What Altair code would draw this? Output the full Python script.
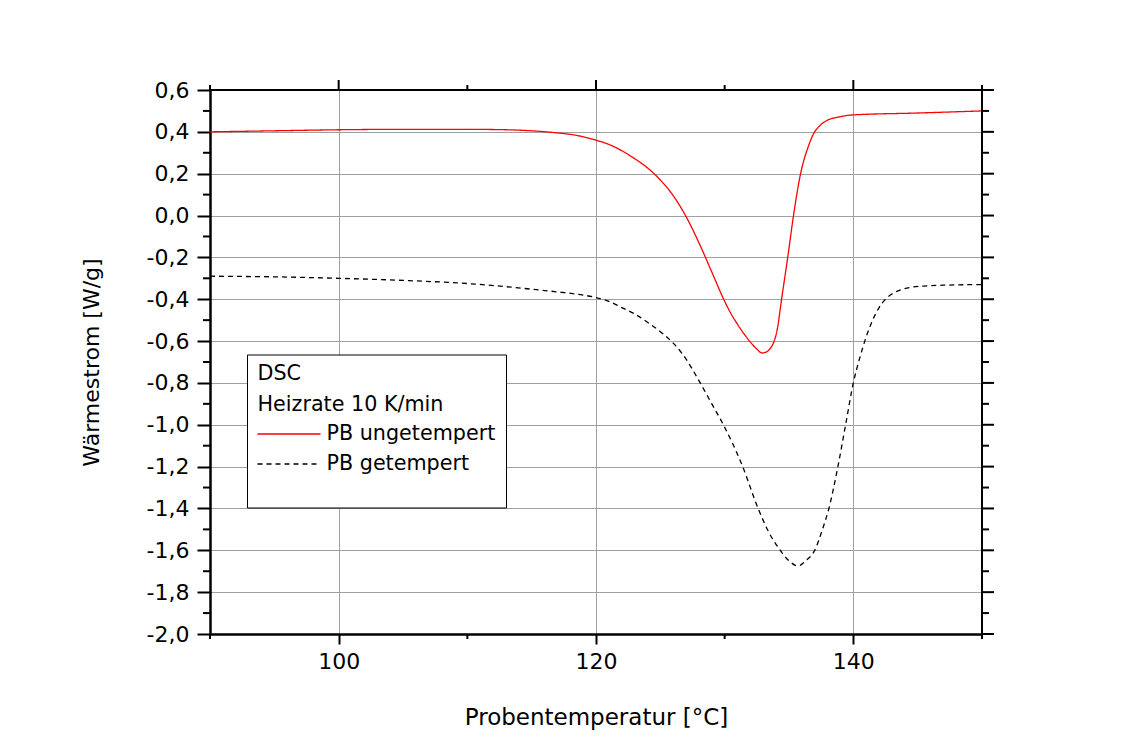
import altair as alt
import pandas as pd

# ---- data ----
red_T = [90, 95, 100, 105, 110, 113, 115, 117, 118.5, 120, 121, 122, 123, 124, 125, 126,
         127, 128, 129, 130, 130.5, 131, 131.5, 132, 132.5, 132.9, 133.3, 133.6, 133.85,
         134.1, 134.4, 134.9, 135.35, 135.9, 136.5, 136.9, 137.4, 138.0, 138.8, 140, 145, 150]
red_W = [0.400, 0.405, 0.410, 0.412, 0.412, 0.410, 0.405, 0.395, 0.383, 0.360, 0.340, 0.310,
         0.272, 0.228, 0.170, 0.095, -0.005, -0.130, -0.270, -0.410, -0.470, -0.520, -0.565,
         -0.605, -0.638, -0.657, -0.650, -0.630, -0.600, -0.540, -0.410, -0.200, 0.000, 0.200,
         0.330, 0.390, 0.430, 0.456, 0.470, 0.481, 0.490, 0.500]

blk_T = [90, 95, 100, 105, 110, 113, 115, 117, 119, 120, 121, 122, 123, 124, 125, 126,
         126.7, 128.1, 129, 129.9, 131.4, 132.6, 133.4, 134.2, 135.0, 135.7, 136.3, 137.0,
         137.6, 138.1, 138.8, 139.4, 140.0, 140.5, 141.0, 141.5, 142.0, 142.5, 143.0, 143.7,
         144.5, 145.5, 147, 150]
blk_W = [-0.290, -0.293, -0.300, -0.310, -0.325, -0.340, -0.352, -0.365, -0.380, -0.392,
         -0.410, -0.440, -0.470, -0.510, -0.555, -0.610, -0.660, -0.800, -0.900, -1.000,
         -1.200, -1.400, -1.510, -1.590, -1.650, -1.675, -1.650, -1.600, -1.500, -1.400,
         -1.200, -1.000, -0.800, -0.680, -0.580, -0.500, -0.440, -0.400, -0.375, -0.355,
         -0.343, -0.337, -0.333, -0.330]

series_names = ["PB ungetempert", "PB getempert"]
legend_header = ["DSC", "Heizrate 10 K/min"]

x_major = [100, 120, 140]
x_minor = [90, 110, 130, 150]
y_major = [-2.0, -1.8, -1.6, -1.4, -1.2, -1.0, -0.8, -0.6, -0.4, -0.2, 0.0, 0.2, 0.4, 0.6]
y_minor = [-1.9, -1.7, -1.5, -1.3, -1.1, -0.9, -0.7, -0.5, -0.3, -0.1, 0.1, 0.3, 0.5]

# ---- layout ----
W, H = 772, 544
FONT = "DejaVu Sans"
xs = alt.Scale(domain=[90, 150], nice=False, zero=False)
ys = alt.Scale(domain=[-2.0, 0.6], nice=False, zero=False)

df = pd.DataFrame({
    "T": red_T + blk_T,
    "W": red_W + blk_W,
    "series": [series_names[0]] * len(red_T) + [series_names[1]] * len(blk_T),
})

color_scale = alt.Scale(domain=series_names, range=["#ff0000", "#000000"])
dash_scale = alt.Scale(domain=series_names, range=[[1, 0], [5, 4]])

lines = alt.Chart(df).mark_line(strokeWidth=1.3, interpolate="monotone", clip=True).encode(
    x=alt.X("T:Q", scale=xs, title="Probentemperatur [°C]",
            axis=alt.Axis(values=x_major, tickSize=10, tickWidth=2, tickColor="black",
                          domainWidth=2.5, domainColor="black",
                          grid=True, gridColor="#a0a0a0", gridWidth=1,
                          labelFont=FONT, labelFontSize=22, labelColor="black", labelPadding=7,
                          titleFont=FONT, titleFontSize=23, titleFontWeight="normal",
                          titleColor="black", titlePadding=34)),
    y=alt.Y("W:Q", scale=ys, title="Wärmestrom [W/g]",
            axis=alt.Axis(values=y_major, tickSize=13, tickWidth=2, tickColor="black",
                          domainWidth=2.5, domainColor="black",
                          grid=True, gridColor="#a0a0a0", gridWidth=1,
                          labelFont=FONT, labelFontSize=22, labelColor="black", labelPadding=8,
                          labelExpr="(datum.value < -0.001 ? '-' : '') + replace(format(abs(datum.value), '.1f'), '.', ',')",
                          titleFont=FONT, titleFontSize=22, titleFontWeight="normal",
                          titleColor="black", titlePadding=43)),
    color=alt.Color("series:N", scale=color_scale, legend=None),
    strokeDash=alt.StrokeDash("series:N", scale=dash_scale, legend=None),
)

def xticks(vals, y0, y1):
    return alt.Chart(pd.DataFrame({"T": vals})).mark_rule(color="black", strokeWidth=2).encode(
        x=alt.X("T:Q", scale=xs), y=alt.value(y0), y2=alt.value(y1))

def yticks(vals, x0, x1):
    return alt.Chart(pd.DataFrame({"W": vals})).mark_rule(color="black", strokeWidth=2).encode(
        y=alt.Y("W:Q", scale=ys), x=alt.value(x0), x2=alt.value(x1))

one = alt.Data(values=[{}])
frame_top = alt.Chart(one).mark_rule(color="black", strokeWidth=2).encode(
    x=alt.value(0), x2=alt.value(W), y=alt.value(0))
frame_right = alt.Chart(one).mark_rule(color="black", strokeWidth=2).encode(
    x=alt.value(W), y=alt.value(0), y2=alt.value(H))

ticks = [
    xticks(x_minor, H, H + 5),
    xticks(x_major, 0, -10),
    xticks(x_minor, 0, -5),
    yticks(y_minor, 0, -7),
    yticks(y_major, W, W + 12),
    yticks(y_minor, W, W + 7),
]

# ---- legend box ----
LX0, LX1, LY0, LY1 = 37.5, 296.5, 265, 418
ROWS = [284, 315, 344, 374]
box = alt.Chart(one).mark_rect(fill="white", stroke="black", strokeWidth=1).encode(
    x=alt.value(LX0), x2=alt.value(LX1), y=alt.value(LY0), y2=alt.value(LY1))

legend_layers = [box]
for i, t in enumerate(legend_header):
    legend_layers.append(
        alt.Chart(one).mark_text(align="left", baseline="middle", font=FONT, fontSize=20.7,
                                 color="black", text=t).encode(
            x=alt.value(LX0 + 10), y=alt.value(ROWS[i])))
for i, s in enumerate(series_names):
    row = ROWS[2 + i]
    legend_layers.append(
        alt.Chart(pd.DataFrame({"series": [s]})).mark_rule(strokeWidth=1.3).encode(
            x=alt.value(LX0 + 10), x2=alt.value(LX0 + 73), y=alt.value(row),
            color=alt.Color("series:N", scale=color_scale, legend=None),
            strokeDash=alt.StrokeDash("series:N", scale=dash_scale, legend=None)))
    legend_layers.append(
        alt.Chart(one).mark_text(align="left", baseline="middle", font=FONT, fontSize=20.7,
                                 color="black", text=s).encode(
            x=alt.value(LX0 + 79), y=alt.value(row)))

chart = alt.layer(lines, frame_top, frame_right, *ticks, *legend_layers).properties(
    width=W, height=H,
    autosize=alt.AutoSizeParams(type="none"),
    padding={"left": 202, "top": 82, "right": 136, "bottom": 100},
).configure_view(stroke=None).configure(background="white")

chart.save("out.html", embed_options={"renderer": "svg", "actions": False})
